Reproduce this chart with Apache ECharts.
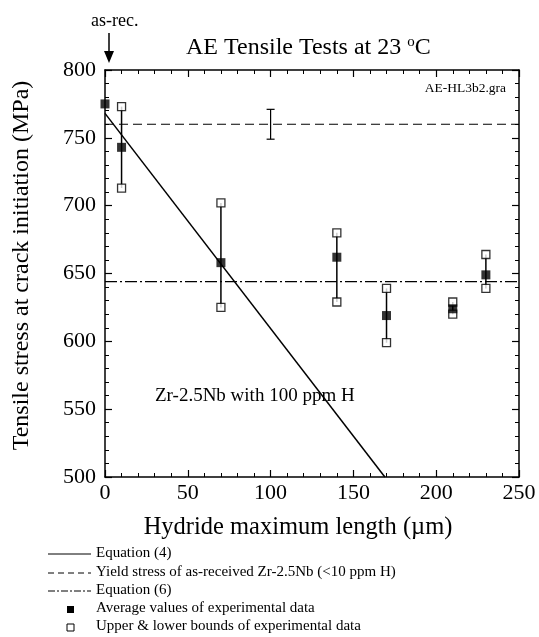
<!DOCTYPE html>
<html>
<head>
<meta charset="utf-8">
<script src="https://cdn.jsdelivr.net/npm/echarts@6/dist/echarts.min.js"></script>
<style>
  html, body { margin: 0; padding: 0; background: #fff; }
  #chart { width: 539px; height: 637px; }
</style>
</head>
<body>
<div id="chart"></div>
<script>
// hydride length (um) and measured stresses (MPa)
const hydrideLength = [0, 10, 70, 140, 170, 210, 230];
const avgStress = [775, 743, 658, 662, 619, 624, 649];
const upperStress = [null, 773, 702, 680, 639, 629, 664];
const lowerStress = [null, 713, 625, 629, 599, 620, 639];

// Equation (4): straight line end points
const eq4X = [0, 169];
const eq4Y = [768, 500];

// yield stress of as-received material, with its scatter bar
const yieldStress = 760;
const yieldBarX = 100;
const yieldBarLow = 749;
const yieldBarHigh = 771;

// Equation (6)
const eq6Stress = 644;

const xTicks = [0, 50, 100, 150, 200, 250];
const yTicks = [500, 550, 600, 650, 700, 750, 800];

const FONT = 'Liberation Serif';
const chart = echarts.init(document.getElementById('chart'));

const avgData = hydrideLength.map((x, i) => [x, avgStress[i]]);
const boundData = [];
const barData = [];
hydrideLength.forEach((x, i) => {
  if (upperStress[i] == null) return;
  boundData.push([x, upperStress[i]]);
  boundData.push([x, lowerStress[i]]);
  barData.push([x, lowerStress[i], upperStress[i]]);
});

// onZero off, otherwise the right axis is drawn at x = 0
function axisCommon(showLabel, margin) {
  return {
    type: 'value',
    axisLine: { show: true, onZero: false, lineStyle: { color: '#000', width: 1.5 } },
    axisTick: { show: true, inside: true, length: 7, lineStyle: { color: '#000', width: 1.2 } },
    minorTick: { show: true, splitNumber: 5, length: 4, lineStyle: { color: '#000', width: 1 } },
    splitLine: { show: false },
    axisLabel: {
      show: showLabel, color: '#000', fontFamily: FONT, fontSize: 22, margin,
    },
  };
}

const option = {
  animation: false,
  backgroundColor: '#fff',
  title: {
    text: 'AE Tensile Tests at 23 {sup|o}C',
    left: 181,
    top: 30,
    textStyle: {
      fontFamily: FONT, fontSize: 24, fontWeight: 'normal', color: '#000',
      rich: { sup: { fontFamily: FONT, fontSize: 15, verticalAlign: 'top', padding: [0, 0, 11, 0], color: '#000' } },
    },
  },
  grid: { left: 105, right: 20, top: 70, bottom: 160, containLabel: false },
  xAxis: [
    {
      ...axisCommon(true, 5),
      position: 'bottom',
      min: xTicks[0], max: xTicks[xTicks.length - 1], interval: 50,
      name: 'Hydride maximum length (\u00b5m)',
      nameLocation: 'middle',
      nameGap: 38,
      nameTextStyle: { fontFamily: FONT, fontSize: 24.5, color: '#000', padding: [0, 28, 0, 0] },
    },
    {
      ...axisCommon(false, 5),
      position: 'top',
      min: xTicks[0], max: xTicks[xTicks.length - 1], interval: 50,
    },
  ],
  yAxis: [
    {
      ...axisCommon(true, 9),
      position: 'left',
      min: yTicks[0], max: yTicks[yTicks.length - 1], interval: 50,
      name: 'Tensile stress at crack initiation (MPa)',
      nameLocation: 'middle',
      nameGap: 71,
      nameTextStyle: { fontFamily: FONT, fontSize: 24, color: '#000', padding: [0, 0, 0, 16] },
    },
    {
      ...axisCommon(false, 9),
      position: 'right',
      min: yTicks[0], max: yTicks[yTicks.length - 1], interval: 50,
    },
  ],
  series: [
    {
      name: 'Equation (4)',
      type: 'line',
      data: eq4X.map((x, i) => [x, eq4Y[i]]),
      symbol: 'none',
      lineStyle: { color: '#000', width: 1.5 },
      z: 3,
    },
    {
      name: 'Yield stress',
      type: 'line',
      data: [[xTicks[0], yieldStress], [xTicks[xTicks.length - 1], yieldStress]],
      symbol: 'none',
      lineStyle: { color: '#000', width: 1.2, type: [9, 5] },
    },
    {
      name: 'Equation (6)',
      type: 'line',
      data: [[xTicks[0], eq6Stress], [xTicks[xTicks.length - 1], eq6Stress]],
      symbol: 'none',
      lineStyle: { color: '#000', width: 1.2, type: [12, 3, 2, 3] },
    },
    {
      // vertical bars between lower and upper bounds
      type: 'custom',
      data: barData,
      renderItem(params, api) {
        const p1 = api.coord([api.value(0), api.value(1)]);
        const p2 = api.coord([api.value(0), api.value(2)]);
        return {
          type: 'line',
          shape: { x1: p1[0], y1: p1[1], x2: p2[0], y2: p2[1] },
          style: { stroke: '#000', lineWidth: 1.5 },
        };
      },
      z: 4,
    },
    {
      // scatter bar on yield stress, with caps
      type: 'custom',
      data: [[yieldBarX, yieldBarLow, yieldBarHigh]],
      renderItem(params, api) {
        const p1 = api.coord([api.value(0), api.value(1)]);
        const p2 = api.coord([api.value(0), api.value(2)]);
        const w = 4;
        const st = { stroke: '#000', lineWidth: 1.2 };
        return {
          type: 'group',
          children: [
            { type: 'line', shape: { x1: p1[0], y1: p1[1], x2: p2[0], y2: p2[1] }, style: st },
            { type: 'line', shape: { x1: p1[0] - w, y1: p1[1], x2: p1[0] + w, y2: p1[1] }, style: st },
            { type: 'line', shape: { x1: p2[0] - w, y1: p2[1], x2: p2[0] + w, y2: p2[1] }, style: st },
          ],
        };
      },
      z: 4,
    },
    {
      name: 'Upper & lower bounds',
      type: 'scatter',
      data: boundData,
      symbol: 'rect',
      symbolSize: 8,
      itemStyle: { color: '#fff', borderColor: '#000', borderWidth: 1.3 },
      z: 5,
    },
    {
      name: 'Average values',
      type: 'scatter',
      data: avgData,
      symbol: 'rect',
      symbolSize: 9,
      itemStyle: { color: '#000' },
      z: 6,
    },
  ],
  graphic: [
    { type: 'text', left: 91, top: 12, style: { text: 'as-rec.', font: `18px "${FONT}"`, fill: '#000' } },
    { type: 'line', shape: { x1: 109, y1: 33, x2: 109, y2: 55 }, style: { stroke: '#000', lineWidth: 1.5 } },
    { type: 'polygon', shape: { points: [[104, 51], [114, 51], [109, 63]] }, style: { fill: '#000' } },
    { type: 'text', right: 33, top: 81, style: { text: 'AE-HL3b2.gra', font: `13.5px "${FONT}"`, fill: '#000' } },
    { type: 'text', left: 155, top: 387, style: { text: 'Zr-2.5Nb with 100 ppm H', font: `19px "${FONT}"`, fill: '#000' } },
    // legend
    { type: 'line', shape: { x1: 48, y1: 554, x2: 91, y2: 554 }, style: { stroke: '#000', lineWidth: 1 } },
    { type: 'line', shape: { x1: 48, y1: 573, x2: 91, y2: 573 }, style: { stroke: '#000', lineWidth: 1, lineDash: [6, 4] } },
    { type: 'line', shape: { x1: 48, y1: 591, x2: 91, y2: 591 }, style: { stroke: '#000', lineWidth: 1, lineDash: [7, 2, 2, 2] } },
    { type: 'rect', shape: { x: 67, y: 606, width: 7, height: 7 }, style: { fill: '#000' } },
    { type: 'rect', shape: { x: 67, y: 624, width: 7, height: 7 }, style: { fill: '#fff', stroke: '#000', lineWidth: 1 } },
    { type: 'text', left: 96, top: 546, style: { text: 'Equation (4)', font: `15px "${FONT}"`, fill: '#000' } },
    { type: 'text', left: 96, top: 565, style: { text: 'Yield stress of as-received Zr-2.5Nb (<10 ppm H)', font: `15px "${FONT}"`, fill: '#000' } },
    { type: 'text', left: 96, top: 583, style: { text: 'Equation (6)', font: `15px "${FONT}"`, fill: '#000' } },
    { type: 'text', left: 96, top: 601, style: { text: 'Average values of experimental data', font: `15px "${FONT}"`, fill: '#000' } },
    { type: 'text', left: 96, top: 619, style: { text: 'Upper & lower bounds of experimental data', font: `15px "${FONT}"`, fill: '#000' } },
  ],
};

chart.setOption(option);
</script>
</body>
</html>
